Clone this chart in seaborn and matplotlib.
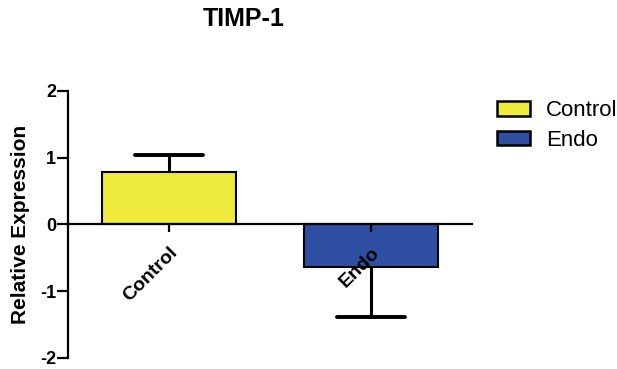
import seaborn as sns
import pandas as pd
import numpy as np
import matplotlib.pyplot as plt

groups = ['Control', 'Endo']
means = [0.78, -0.63]
errs = [0.26, 0.75]
bar_colors = ['#EEEB3C', '#2F4FA2']

sns.set_style('white')
plt.rcParams['font.family'] = ['Liberation Sans', 'DejaVu Sans']
plt.rcParams['text.color'] = 'black'
plt.rcParams['xtick.color'] = 'black'
plt.rcParams['ytick.color'] = 'black'
plt.rcParams['axes.labelcolor'] = 'black'

df = pd.DataFrame({'group': groups, 'value': means})

fig = plt.figure(figsize=(6.17, 3.69), dpi=100)
ax = fig.add_axes([68/617, 1-358/369, (472-68)/617, (358-91)/369])

sns.barplot(data=df, x='group', y='value', hue='group', palette=bar_colors,
            saturation=1, width=0.66, edgecolor='black', linewidth=1.5,
            ax=ax, legend=False, zorder=2)

# one-sided error bars, pointing away from zero
for i, (m, e) in enumerate(zip(means, errs)):
    end = m + np.sign(m) * e
    ax.vlines(i, m, end, color='black', linewidth=2.2, zorder=1)
    ax.hlines(end, i - 0.17, i + 0.17, color='black', linewidth=2.8,
              zorder=1, capstyle='round')

ax.set_axisbelow(False)
ax.set_ylim(-2, 2)
ax.set_xlim(-0.5, 1.5)
ax.set_yticks([-2, -1, 0, 1, 2])
ax.set_yticklabels(['-2', '-1', '0', '1', '2'], fontweight='bold', fontsize=13)

for s in ['top', 'right']:
    ax.spines[s].set_visible(False)
ax.spines['bottom'].set_position(('data', 0))
for s in ['left', 'bottom']:
    ax.spines[s].set_linewidth(1.6)
    ax.spines[s].set_color('black')
    ax.spines[s].set_zorder(3)

ax.tick_params(axis='y', direction='out', length=8, width=1.6, pad=0.5, left=True)
ax.tick_params(axis='x', direction='out', length=6, width=1.6, bottom=True, pad=8)
ax.set_xlabel('')
ax.set_xticks([0, 1])
ax.set_xticklabels(groups, rotation=45, ha='right', va='top',
                   rotation_mode='anchor', fontweight='bold', fontsize=14)

ax.set_ylabel('Relative Expression', fontweight='bold', fontsize=15)
ax.yaxis.set_label_coords(-0.094, 0.5)
fig.text(244/617, 1-19/369, 'TIMP-1', ha='center', va='center',
         fontweight='bold', fontsize=18)

handles = [plt.Rectangle((0, 0), 1, 1, facecolor=c, edgecolor='black', linewidth=1.8)
           for c in bar_colors]
fig.legend(handles, groups, loc='upper left', bbox_to_anchor=(497/617, 1-100/369),
           frameon=False, fontsize=16, handlelength=1.5, handleheight=0.64,
           handletextpad=0.7, labelspacing=0.4, borderpad=0, borderaxespad=0)

fig.savefig('out.png', dpi=100)
